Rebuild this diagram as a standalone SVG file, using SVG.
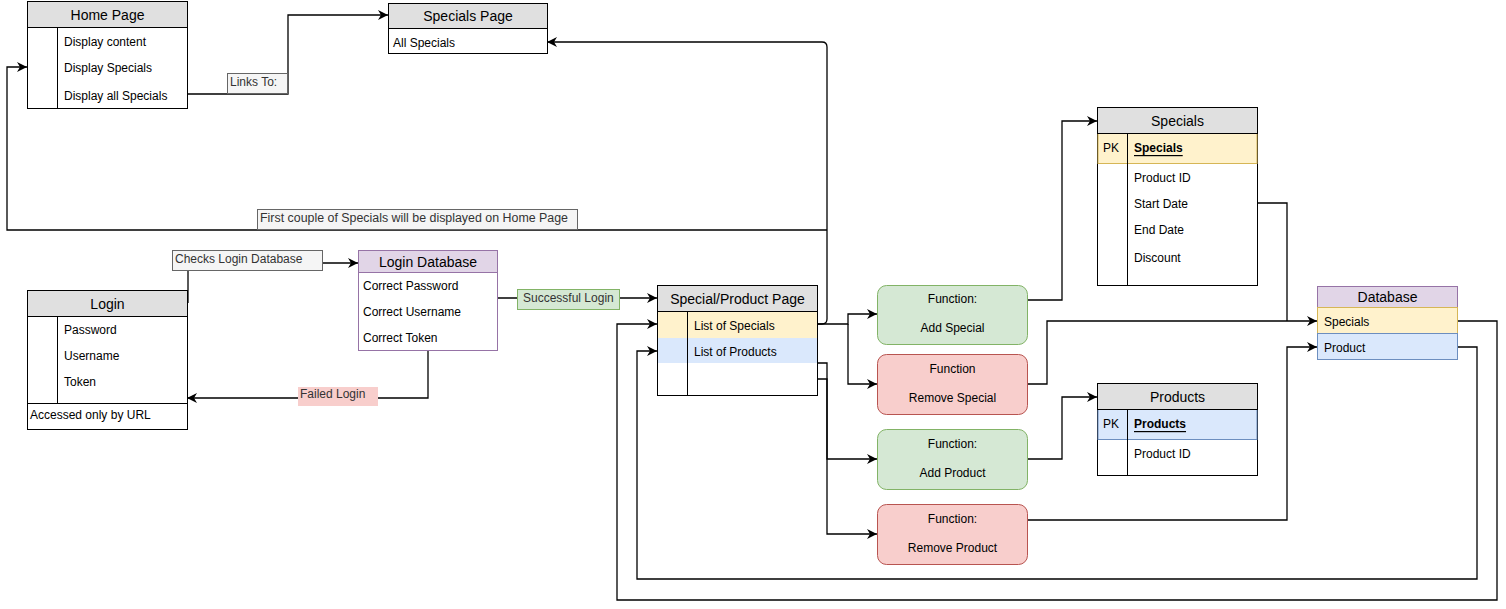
<svg xmlns="http://www.w3.org/2000/svg" width="1506" height="609" viewBox="0 0 1506 609">
  <style>
    text { font-family: "Liberation Sans", Arial, sans-serif; fill: #000; }
    .h { font-size: 14px; text-anchor: middle; dominant-baseline: central; }
    .r { font-size: 12px; dominant-baseline: central; }
    .c { font-size: 12px; text-anchor: middle; dominant-baseline: central; }
    .pk { font-size: 12px; font-weight: bold; text-decoration: underline; dominant-baseline: central; }
    .box { fill: #fff; stroke: #000; stroke-width: 1; }
    .head { fill: #e0e0e0; stroke: #000; stroke-width: 1; }
    .ln { fill: none; stroke: #000; stroke-width: 1; }
    .yel { fill: #fff2cc; }
    .blu { fill: #dae8fc; }
    .fn-g { fill: #d5e8d4; stroke: #82b366; }
    .fn-r { fill: #f8cecc; stroke: #b85450; }
    .lbl { fill: #f5f5f5; stroke: #666; }
    .lbl-t { font-size: 12px; fill: #333; dominant-baseline: central; }
    .wire { fill: none; stroke: #000; stroke-width: 1.3; }
    .arr { fill: none; stroke: #000; stroke-width: 1.3; marker-end: url(#arrow); }
  </style>
  <defs>
    <marker id="arrow" markerUnits="userSpaceOnUse" markerWidth="12" markerHeight="10" refX="10" refY="5" orient="auto">
      <path d="M0,0 L10,5 L0,10 L3,5 Z" fill="#000"/>
    </marker>
  </defs>

  <rect width="1506" height="609" fill="#fff"/>

  <!-- connectors -->
  <g id="connectors">
    <path class="arr" d="M187,94 H288 V15 H388"/>
    <path class="arr" d="M818,324 H822 Q827,324 827,319 V47 Q827,42 822,42 H547"/>
    <path class="arr" d="M827,230 H7 V67 H27"/>
    <path class="arr" d="M818,324 H848 V314 H877"/>
    <path class="arr" d="M848,324 V384 H877"/>
    <path class="arr" d="M818,363 H827 V459 H877"/>
    <path class="arr" d="M818,379 H827 V534 H877"/>
    <path class="arr" d="M1027,300 H1062 V121 H1097"/>
    <path class="arr" d="M1027,384 H1047 V321 H1317"/>
    <path class="wire" d="M1257,203 H1287 V321"/>
    <path class="arr" d="M1027,459 H1062 V397 H1097"/>
    <path class="arr" d="M1027,520 H1287 V347 H1317"/>
    <path class="arr" d="M1457,321 H1497 V600 H617 V324 H657"/>
    <path class="arr" d="M1457,347 H1477 V579 H637 V351 H657"/>
    <path class="wire" d="M188,303 V262"/>
    <path class="arr" d="M323,263 H358"/>
    <path class="arr" d="M428,350 V398 H187"/>
    <path class="arr" d="M498,298 H657"/>
  </g>

  <!-- connector labels -->
  <g id="labels">
    <rect class="lbl" x="227.5" y="73.5" width="60" height="20"/>
    <text class="lbl-t" x="230" y="82">Links To:</text>
    <rect class="lbl" x="257.5" y="209.5" width="320" height="20"/>
    <text class="lbl-t" x="260" y="218" textLength="308" lengthAdjust="spacingAndGlyphs">First couple of Specials will be displayed on Home Page</text>
    <rect class="lbl" x="172.5" y="250.5" width="150" height="20"/>
    <text class="lbl-t" x="175" y="259">Checks Login Database</text>
    <rect x="298" y="387" width="80" height="19" fill="#f8cecc"/>
    <text class="lbl-t" x="300" y="394">Failed Login</text>
    <rect x="517.5" y="289.5" width="102" height="20" fill="#d5e8d4" stroke="#82b366"/>
    <text class="lbl-t" x="523" y="298">Successful Login</text>
  </g>

  <!-- Home Page -->
  <g id="home-page">
    <rect class="box" x="27.5" y="1.5" width="160" height="107"/>
    <rect class="head" x="27.5" y="1.5" width="160" height="26"/>
    <text class="h" x="107.5" y="14.5">Home Page</text>
    <line class="ln" x1="57.5" y1="27.5" x2="57.5" y2="108.5"/>
    <text class="r" x="64" y="41.5">Display content</text>
    <text class="r" x="64" y="67.5">Display Specials</text>
    <text class="r" x="64" y="95.5">Display all Specials</text>
  </g>

  <!-- Specials Page -->
  <g id="specials-page">
    <rect class="box" x="388.5" y="3.5" width="159" height="50"/>
    <rect class="head" x="388.5" y="3.5" width="159" height="25"/>
    <text class="h" x="468" y="16">Specials Page</text>
    <text class="r" x="393" y="42.5">All Specials</text>
  </g>

  <!-- Login -->
  <g id="login">
    <rect class="box" x="27.5" y="290.5" width="160" height="139"/>
    <rect class="head" x="27.5" y="290.5" width="160" height="26"/>
    <text class="h" x="107.5" y="303.5">Login</text>
    <line class="ln" x1="57.5" y1="316.5" x2="57.5" y2="403.5"/>
    <line class="ln" x1="27.5" y1="403.5" x2="187.5" y2="403.5"/>
    <text class="r" x="64" y="329.5">Password</text>
    <text class="r" x="64" y="355.5">Username</text>
    <text class="r" x="64" y="381.5">Token</text>
    <text class="r" x="30" y="414.5">Accessed only by URL</text>
  </g>

  <!-- Login Database -->
  <g id="login-database">
    <rect x="358.5" y="250.5" width="139" height="100" fill="#fff" stroke="#9673a6"/>
    <rect x="358.5" y="250.5" width="139" height="22" fill="#e1d5e7" stroke="#9673a6"/>
    <text class="h" x="428" y="262">Login Database</text>
    <text class="r" x="363" y="286">Correct Password</text>
    <text class="r" x="363" y="311.5">Correct Username</text>
    <text class="r" x="363" y="337.5">Correct Token</text>
  </g>

  <!-- Special/Product Page -->
  <g id="special-product-page">
    <rect class="box" x="657.5" y="285.5" width="160" height="110"/>
    <rect class="yel" x="658" y="312" width="159" height="26"/>
    <rect class="blu" x="658" y="338" width="159" height="25"/>
    <rect class="head" x="657.5" y="285.5" width="160" height="26"/>
    <line class="ln" x1="687.5" y1="311.5" x2="687.5" y2="395.5"/>
    <text class="h" x="737.5" y="298.5">Special/Product Page</text>
    <text class="r" x="694" y="325.5">List of Specials</text>
    <text class="r" x="694" y="351.5">List of Products</text>
  </g>

  <!-- Functions -->
  <g id="fn-add-special">
    <rect class="fn-g" x="877.5" y="285.5" width="150" height="59" rx="9"/>
    <text class="c" x="952.5" y="298.5">Function:</text>
    <text class="c" x="952.5" y="327.5">Add Special</text>
  </g>
  <g id="fn-remove-special">
    <rect class="fn-r" x="877.5" y="354.5" width="150" height="60" rx="9"/>
    <text class="c" x="952.5" y="368.5">Function</text>
    <text class="c" x="952.5" y="397.5">Remove Special</text>
  </g>
  <g id="fn-add-product">
    <rect class="fn-g" x="877.5" y="429.5" width="150" height="60" rx="9"/>
    <text class="c" x="952.5" y="443.5">Function:</text>
    <text class="c" x="952.5" y="472.5">Add Product</text>
  </g>
  <g id="fn-remove-product">
    <rect class="fn-r" x="877.5" y="504.5" width="150" height="60" rx="9"/>
    <text class="c" x="952.5" y="518.5">Function:</text>
    <text class="c" x="952.5" y="547.5">Remove Product</text>
  </g>

  <!-- Specials table -->
  <g id="specials-table">
    <rect class="box" x="1097.5" y="107.5" width="160" height="178"/>
    <rect x="1098" y="133.5" width="159" height="30" fill="#fff2cc" stroke="#d6b656"/>
    <rect class="head" x="1097.5" y="107.5" width="160" height="26"/>
    <line class="ln" x1="1127.5" y1="133.5" x2="1127.5" y2="285.5"/>
    <text class="h" x="1177.5" y="120.5">Specials</text>
    <text class="r" x="1103" y="148">PK</text>
    <text class="pk" x="1134" y="148">Specials</text>
    <text class="r" x="1134" y="177.5">Product ID</text>
    <text class="r" x="1134" y="203.5">Start Date</text>
    <text class="r" x="1134" y="229.5">End Date</text>
    <text class="r" x="1134" y="257.5">Discount</text>
  </g>

  <!-- Products table -->
  <g id="products-table">
    <rect class="box" x="1097.5" y="383.5" width="160" height="92"/>
    <rect x="1098" y="409.5" width="159" height="30" fill="#dae8fc" stroke="#6c8ebf"/>
    <rect class="head" x="1097.5" y="383.5" width="160" height="26"/>
    <line class="ln" x1="1127.5" y1="409.5" x2="1127.5" y2="475.5"/>
    <text class="h" x="1177.5" y="396.5">Products</text>
    <text class="r" x="1103" y="424">PK</text>
    <text class="pk" x="1134" y="424">Products</text>
    <text class="r" x="1134" y="453.5">Product ID</text>
  </g>

  <!-- Database -->
  <g id="database">
    <rect x="1317.5" y="286.5" width="140" height="21" fill="#e1d5e7" stroke="#9673a6"/>
    <rect x="1317.5" y="307.5" width="140" height="26" fill="#fff2cc" stroke="#d6b656"/>
    <rect x="1317.5" y="333.5" width="140" height="26" fill="#dae8fc" stroke="#6c8ebf"/>
    <text class="h" x="1387.5" y="297">Database</text>
    <text class="r" x="1324" y="321.5">Specials</text>
    <text class="r" x="1324" y="347.5">Product</text>
  </g>
</svg>
